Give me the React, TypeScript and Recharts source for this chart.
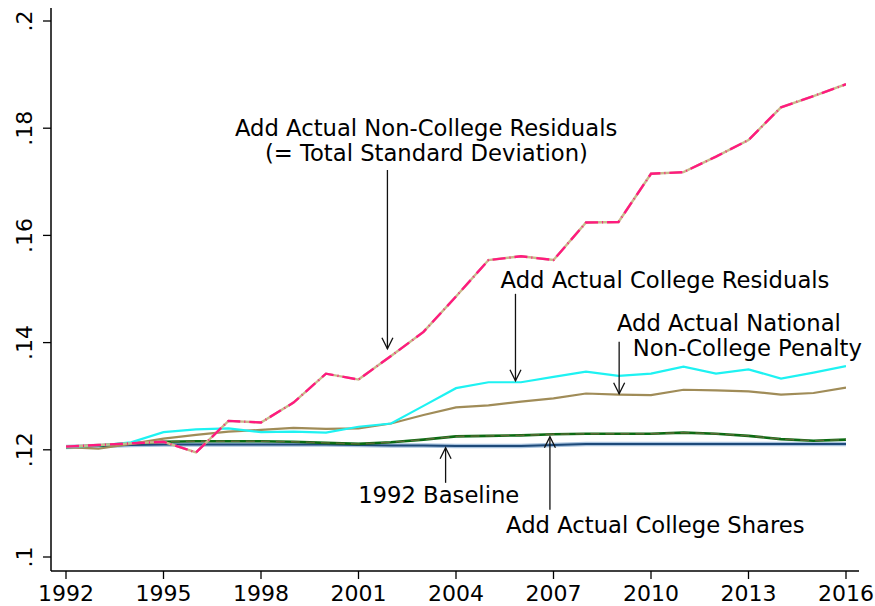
import React from 'react';
import { LineChart, Line, XAxis, YAxis, ReferenceLine, ReferenceDot } from 'recharts';

const years = [1992, 1993, 1994, 1995, 1996, 1997, 1998, 1999, 2000, 2001, 2002, 2003, 2004, 2005, 2006, 2007, 2008, 2009, 2010, 2011, 2012, 2013, 2014, 2015, 2016];
const baseline = [0.1205, 0.1207, 0.1209, 0.1210, 0.1210, 0.1210, 0.1210, 0.1210, 0.1210, 0.1209, 0.1208, 0.1208, 0.1207, 0.1207, 0.1207, 0.1209, 0.1211, 0.1211, 0.1211, 0.1211, 0.1211, 0.1211, 0.1211, 0.1211, 0.1211];
const collegeShares = [0.1205, 0.1208, 0.1212, 0.1215, 0.1216, 0.1216, 0.1216, 0.1215, 0.1213, 0.1211, 0.1214, 0.1219, 0.1225, 0.1226, 0.1227, 0.1229, 0.1230, 0.1230, 0.1230, 0.1232, 0.1230, 0.1226, 0.1220, 0.1217, 0.1219];
const nationalPenalty = [0.1205, 0.1202, 0.1211, 0.1221, 0.1228, 0.1234, 0.1237, 0.1241, 0.1239, 0.1240, 0.1249, 0.1265, 0.1279, 0.1283, 0.1290, 0.1296, 0.1305, 0.1303, 0.1302, 0.1312, 0.1311, 0.1309, 0.1303, 0.1306, 0.1316];
const collegeResiduals = [0.1205, 0.1208, 0.1214, 0.1233, 0.1238, 0.1240, 0.1233, 0.1234, 0.1232, 0.1243, 0.1249, 0.1282, 0.1315, 0.1326, 0.1326, 0.1336, 0.1346, 0.1338, 0.1342, 0.1355, 0.1342, 0.1350, 0.1333, 0.1344, 0.1356];
const totalSD = [0.1206, 0.1209, 0.1212, 0.1215, 0.1195, 0.1254, 0.1251, 0.1288, 0.1342, 0.1331, 0.1375, 0.1420, 0.1486, 0.1554, 0.1561, 0.1554, 0.1624, 0.1625, 0.1715, 0.1718, 0.1747, 0.1778, 0.1839, 0.1860, 0.1882];

const xTicks = [1992, 1995, 1998, 2001, 2004, 2007, 2010, 2013, 2016];
const yTicks = [0.1, 0.12, 0.14, 0.16, 0.18, 0.2];
const yTickLabels = ['.1', '.12', '.14', '.16', '.18', '.2'];

const arrows = [
  { x: 2001.89, from: 0.1722, to: 0.13884 },
  { x: 2005.83, from: 0.1491, to: 0.13287 },
  { x: 2009.02, from: 0.14015, to: 0.13045 },
  { x: 2003.68, from: 0.11384, to: 0.12037 },
  { x: 2006.89, from: 0.10881, to: 0.12243 },
];

const labels = [
  { x: 2003.08, y: 0.178582, text: 'Add Actual Non-College Residuals', anchor: 'middle' },
  { x: 2003.09, y: 0.173918, text: '(= Total Standard Deviation)', anchor: 'middle' },
  { x: 2005.37, y: 0.150224, text: 'Add Actual College Residuals', anchor: 'start' },
  { x: 2008.95, y: 0.1422, text: 'Add Actual National', anchor: 'start' },
  { x: 2009.44, y: 0.13754, text: 'Non-College Penalty', anchor: 'start' },
  { x: 2000.99, y: 0.11, text: '1992 Baseline', anchor: 'start' },
  { x: 2005.54, y: 0.10457, text: 'Add Actual College Shares', anchor: 'start' },
];

const data = years.map((year, i) => ({
  year,
  baseline: baseline[i],
  collegeShares: collegeShares[i],
  nationalPenalty: nationalPenalty[i],
  collegeResiduals: collegeResiduals[i],
  totalSD: totalSD[i],
}));

const FONT = '"DejaVu Sans", sans-serif';

const XTick = (props: any) => {
  const { x, y, payload } = props;
  return (
    <text x={x} y={y + 20} textAnchor="middle" fontSize={22} fontFamily={FONT} fill="#000">
      {payload.value}
    </text>
  );
};

const YTick = (props: any) => {
  const { x, y, payload } = props;
  const idx = yTicks.findIndex((t) => Math.abs(t - payload.value) < 1e-9);
  const label = idx >= 0 ? yTickLabels[idx] : String(payload.value);
  const cx = x - 9;
  return (
    <text x={cx} y={y} transform={`rotate(-90, ${cx}, ${y})`} textAnchor="middle" fontSize={22} fontFamily={FONT} fill="#000">
      {label}
    </text>
  );
};

const ArrowShape = (props: any) => {
  const { x1, y1, x2, y2 } = props;
  const dir = y2 > y1 ? 1 : -1;
  const h = 11;
  const w = 5.5;
  return (
    <g>
      <line x1={x1} y1={y1} x2={x2} y2={y2} stroke="#111" strokeWidth={1.3} />
      <polyline
        points={`${x2 - w},${y2 - dir * h} ${x2},${y2} ${x2 + w},${y2 - dir * h}`}
        fill="none"
        stroke="#111"
        strokeWidth={1.3}
      />
    </g>
  );
};

export default function App() {
  return (
    <div style={{ position: 'absolute', left: 0, top: 0, background: '#fff' }}>
      <LineChart width={875} height={606} data={data} margin={{ top: 8, right: 16, bottom: 0, left: 0 }}>
        <XAxis
          dataKey="year"
          type="number"
          domain={[1992, 2016]}
          ticks={xTicks}
          padding={{ left: 15, right: 13 }}
          height={35}
          tickSize={8}
          tickMargin={2}
          axisLine={{ stroke: '#000', strokeWidth: 1.5 }}
          tickLine={{ stroke: '#000', strokeWidth: 1.3 }}
          tick={<XTick />}
          allowDataOverflow
        />
        <XAxis
          xAxisId="top"
          orientation="top"
          dataKey="year"
          type="number"
          domain={[1992, 2016]}
          height={0}
          tick={false}
          tickLine={false}
          axisLine={{ stroke: '#000', strokeWidth: 1.5 }}
        />
        <YAxis
          type="number"
          domain={[0.1, 0.2]}
          ticks={yTicks}
          padding={{ top: 13, bottom: 14 }}
          width={51}
          tickSize={8}
          tickMargin={2}
          axisLine={{ stroke: '#000', strokeWidth: 1.5 }}
          tickLine={{ stroke: '#000', strokeWidth: 1.3 }}
          tick={<YTick />}
          allowDataOverflow
        />
        <YAxis
          yAxisId="right"
          orientation="right"
          type="number"
          domain={[0.1, 0.2]}
          width={0}
          tick={false}
          tickLine={false}
          axisLine={{ stroke: '#000', strokeWidth: 1.5 }}
        />

        <Line type="linear" dataKey="baseline" stroke="#a9c3de" strokeWidth={4.5} dot={false} isAnimationActive={false} />
        <Line type="linear" dataKey="baseline" stroke="#1d4a7a" strokeWidth={2} dot={false} isAnimationActive={false} />
        <Line type="linear" dataKey="collegeShares" stroke="#0b6b12" strokeWidth={2.6} dot={false} isAnimationActive={false} />
        <Line type="linear" dataKey="collegeShares" stroke="#7d6a45" strokeWidth={1.4} strokeDasharray="9 6" strokeOpacity={0.7} dot={false} isAnimationActive={false} />
        <Line type="linear" dataKey="nationalPenalty" stroke="#a08c58" strokeWidth={2.2} dot={false} isAnimationActive={false} />
        <Line type="linear" dataKey="collegeResiduals" stroke="#1ef2f2" strokeWidth={2.2} dot={false} isAnimationActive={false} />
        <Line type="linear" dataKey="totalSD" stroke="#c8ba8a" strokeWidth={2.4} dot={false} isAnimationActive={false} />
        <Line type="linear" dataKey="totalSD" stroke="#ff1a7f" strokeWidth={2.4} strokeDasharray="13 4 1 4" dot={false} isAnimationActive={false} />

        {arrows.map((a, i) => (
          <ReferenceLine
            key={`arrow-${i}`}
            segment={[{ x: a.x, y: a.from }, { x: a.x, y: a.to }]}
            shape={(p: any) => <ArrowShape {...p} />}
            ifOverflow="visible"
          />
        ))}
        {labels.map((l, i) => (
          <ReferenceDot
            key={`label-${i}`}
            x={l.x}
            y={l.y}
            r={0}
            ifOverflow="visible"
            shape={(p: any) => (
              <text x={p.cx} y={p.cy} textAnchor={l.anchor as any} fontSize={22.7} fontFamily={FONT} fill="#000">
                {l.text}
              </text>
            )}
          />
        ))}
      </LineChart>
    </div>
  );
}
